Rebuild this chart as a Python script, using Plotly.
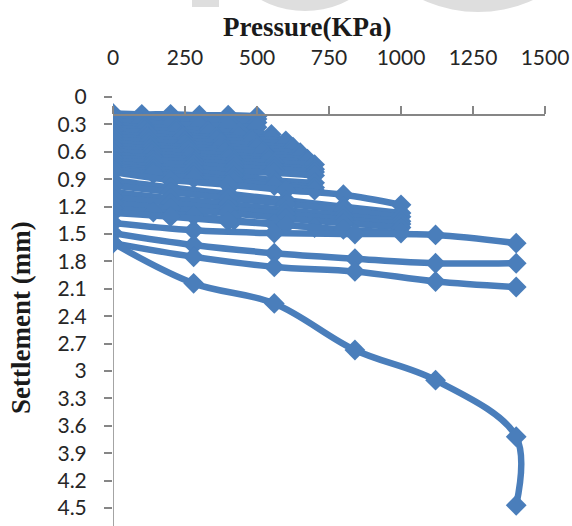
import plotly.graph_objects as go

# Pressure steps (KPa) for each group of load tests
p_100 = [0, 100, 200, 300, 400, 500]
p_110 = [0, 110, 220, 330, 440, 550]
p_120 = [0, 120, 240, 360, 480, 600]
p_125 = [0, 125, 250, 375, 500, 625]
p_130 = [0, 130, 260, 390, 520, 650]
p_135 = [0, 135, 270, 405, 540, 675]
p_140 = [0, 140, 280, 420, 560, 700]
p_200 = [0, 200, 400, 600, 800, 1000]
p_280 = [0, 280, 560, 840, 1120, 1400]
p_last = [0, 280, 560, 840, 1120, 1400, 1400]

# Settlement (mm)
s_a1 = [0.18, 0.19, 0.19, 0.20, 0.20, 0.21]
s_a2 = [0.21, 0.22, 0.22, 0.23, 0.23, 0.24]
s_a3 = [0.24, 0.25, 0.26, 0.26, 0.27, 0.28]
s_a4 = [0.27, 0.28, 0.30, 0.31, 0.32, 0.33]
s_b1 = [0.31, 0.33, 0.35, 0.37, 0.38, 0.41]
s_b2 = [0.34, 0.36, 0.38, 0.41, 0.43, 0.45]
s_b3 = [0.37, 0.39, 0.42, 0.44, 0.46, 0.48]
s_b4 = [0.41, 0.43, 0.45, 0.47, 0.49, 0.51]
s_b5 = [0.44, 0.46, 0.48, 0.50, 0.53, 0.55]
s_b6 = [0.47, 0.49, 0.51, 0.54, 0.56, 0.58]
s_b7 = [0.50, 0.53, 0.55, 0.57, 0.59, 0.61]
s_b8 = [0.54, 0.56, 0.58, 0.60, 0.62, 0.65]
s_b9 = [0.57, 0.59, 0.61, 0.64, 0.66, 0.68]
s_b10 = [0.60, 0.62, 0.65, 0.67, 0.69, 0.71]
s_b11 = [0.64, 0.66, 0.68, 0.70, 0.72, 0.74]
s_b12 = [0.67, 0.69, 0.71, 0.73, 0.76, 0.79]
s_b13 = [0.70, 0.72, 0.74, 0.77, 0.79, 0.82]
s_b14 = [0.73, 0.76, 0.78, 0.81, 0.83, 0.86]
s_b15 = [0.76, 0.79, 0.82, 0.86, 0.91, 0.94]
s_b16 = [0.78, 0.82, 0.86, 0.91, 0.95, 0.99]
s_b17 = [0.80, 0.84, 0.89, 0.93, 0.97, 1.02]
s_d1 = [0.82, 0.91, 0.96, 1.02, 1.07, 1.18]
s_d2 = [0.91, 0.99, 1.06, 1.13, 1.20, 1.27]
s_d3 = [0.97, 1.04, 1.11, 1.17, 1.24, 1.31]
s_d4 = [1.04, 1.11, 1.17, 1.24, 1.30, 1.36]
s_g1 = [1.10, 1.16, 1.23, 1.28, 1.34, 1.39]
s_d5 = [1.16, 1.22, 1.27, 1.33, 1.38, 1.43]
s_g2 = [1.22, 1.26, 1.30, 1.35, 1.39, 1.43]
s_e1 = [1.27, 1.31, 1.36, 1.40, 1.45, 1.49]
s_f1 = [1.38, 1.46, 1.49, 1.50, 1.51, 1.60]
s_f2 = [1.49, 1.62, 1.71, 1.77, 1.82, 1.82]
s_f3 = [1.60, 1.75, 1.86, 1.91, 2.02, 2.08]
s_last = [1.60, 2.04, 2.26, 2.77, 3.10, 3.72, 4.47]

series = [
    (p_100, s_a1), (p_100, s_a2), (p_100, s_a3), (p_100, s_a4),
    (p_110, s_b1), (p_110, s_b2), (p_120, s_b3), (p_120, s_b4),
    (p_125, s_b5), (p_125, s_b6), (p_130, s_b7), (p_130, s_b8),
    (p_135, s_b9), (p_135, s_b10), (p_140, s_b11), (p_140, s_b12),
    (p_140, s_b13), (p_140, s_b14), (p_140, s_b15), (p_140, s_b16),
    (p_140, s_b17),
    (p_200, s_d1), (p_200, s_d2), (p_200, s_d3), (p_200, s_d4),
    (p_200, s_g1), (p_200, s_d5), (p_140, s_g2), (p_200, s_e1),
    (p_280, s_f1), (p_280, s_f2), (p_280, s_f3), (p_last, s_last),
]

x_ticks = [0, 250, 500, 750, 1000, 1250, 1500]
y_ticks = [0, 0.3, 0.6, 0.9, 1.2, 1.5, 1.8, 2.1, 2.4, 2.7, 3, 3.3, 3.6, 3.9, 4.2, 4.5]
y_labels = ["0", "0.3", "0.6", "0.9", "1.2", "1.5", "1.8", "2.1", "2.4", "2.7",
            "3", "3.3", "3.6", "3.9", "4.2", "4.5"]

BLUE = "#4A7EBB"
GREY = "#868686"

fig = go.Figure()
for px, sy in series:
    fig.add_trace(go.Scatter(
        x=px, y=sy, mode="lines+markers",
        line=dict(color=BLUE, width=6.5, shape="spline", smoothing=1),
        marker=dict(symbol="diamond", size=16, color=BLUE),
        showlegend=False, hoverinfo="x+y",
    ))

W, H = 572, 526
L, R, T, B = 113, 27, 90, 0
plot_h = H - T - B
plot_w = W - L - R


def py(p):
    return (H - B - p) / plot_h


def pxp(p):
    return (p - L) / plot_w


fig.update_layout(
    width=W, height=H,
    margin=dict(l=L, r=R, t=T, b=B),
    paper_bgcolor="white", plot_bgcolor="white",
    xaxis=dict(
        range=[0, 1500], side="top", anchor="free", position=py(115),
        tickvals=x_ticks, showline=True, linecolor=GREY, linewidth=1.5,
        ticks="outside", ticklen=8, tickcolor=GREY, tickwidth=1.5,
        showgrid=False, zeroline=False,
        tickfont=dict(family="Lato", size=21, color="#262626"),
        ticklabelstandoff=33,
    ),
    yaxis=dict(
        range=[4.697, -0.0767], tickvals=y_ticks, ticktext=y_labels,
        showline=False, ticks="outside", ticklen=8, tickcolor=GREY, tickwidth=1.5,
        showgrid=False, zeroline=False,
        tickfont=dict(family="Lato", size=21, color="#262626"),
        ticklabelstandoff=13,
    ),
    shapes=[
        dict(type="line", xref="x", yref="y", x0=0, x1=0, y0=0.2, y1=4.697,
             line=dict(color=GREY, width=1.5), layer="below"),
        dict(type="rect", xref="paper", yref="paper",
             x0=pxp(192), x1=pxp(219), y0=py(7), y1=py(-2),
             fillcolor="#dedede", line=dict(width=0), layer="below"),
        dict(type="circle", xref="paper", yref="paper",
             x0=pxp(212), x1=pxp(398), y0=py(11), y1=py(-176),
             fillcolor="#dedede", line=dict(width=0), layer="below"),
        dict(type="circle", xref="paper", yref="paper",
             x0=pxp(346), x1=pxp(610), y0=py(12), y1=py(-252),
             fillcolor="#dedede", line=dict(width=0), layer="below"),
    ],
    annotations=[
        dict(text="<b>Pressure(KPa)</b>", xref="paper", yref="paper",
             x=pxp(307), y=py(27), xanchor="center", yanchor="middle",
             showarrow=False,
             font=dict(family="Liberation Serif", size=27, color="#1a1a1a")),
        dict(text="<b>Settlement (mm)</b>", xref="paper", yref="paper",
             x=pxp(21), y=py(318), xanchor="center", yanchor="middle",
             textangle=-90, showarrow=False,
             font=dict(family="Liberation Serif", size=27, color="#1a1a1a")),
    ],
)

fig.write_html("out.html", config={"displayModeBar": False},
               post_script="document.body.style.margin='0';")
